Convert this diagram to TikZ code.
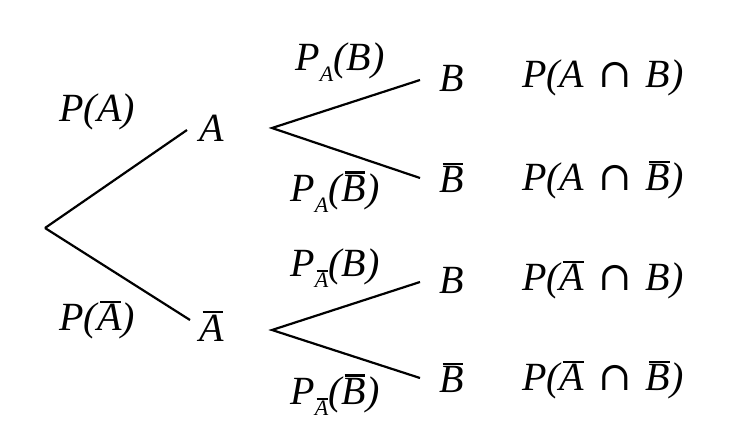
\documentclass[tikz,border=0pt]{standalone}
\usepackage{fontspec}
\setmainfont{Liberation Serif}
\newfontfamily\djf{DejaVu Serif}
\newcommand{\ob}[1]{\leavevmode\setbox0\hbox{#1}\rlap{\hskip0.12\wd0\raisebox{1.05\ht0}{\rule{0.85\wd0}{2.6pt}}}\box0}
\newcommand{\cp}{\hskip0.35em{\djf\fontsize{40}{40}\selectfont ∩}\hskip0.35em}
\newcommand{\sbx}[1]{\raisebox{-0.6ex}{\fontsize{22}{22}\selectfont #1}}
\begin{document}
\begin{tikzpicture}[x=1pt,y=-1pt,
  lbl/.style={font=\fontsize{40}{46}\selectfont\itshape, inner sep=0pt},
  ln/.style={line width=2.2pt}]
\useasboundingbox (0,0) rectangle (740,445);
\coordinate (r) at (45,228);
\node[lbl] (A) at (212,128) {A};
\node[lbl] (Ab) at (212,326) {\ob{A}};
\coordinate (Ar) at (272,128);
\coordinate (Abr) at (272,330);
\node[lbl] (B1) at (452,78) {B};
\node[lbl] (B2) at (452,178) {\ob{B}};
\node[lbl] (B3) at (452,280) {B};
\node[lbl] (B4) at (452,378) {\ob{B}};
\draw[ln] (r) -- (187,130);
\draw[ln] (r) -- (190,320);
\draw[ln] (420,80) -- (Ar) -- (420,178);
\draw[ln] (420,282) -- (Abr) -- (420,378);
\node[lbl] at (97,112) {P(A)};
\node[lbl] at (97,320) {P(\ob{A})};
\node[lbl] at (340,62) {P\sbx{A}(B)};
\node[lbl] at (335,192) {P\sbx{A}(\ob{B})};
\node[lbl] at (335,268) {P\sbx{\ob{A}}(B)};
\node[lbl] at (335,395) {P\sbx{\ob{A}}(\ob{B})};
\node[lbl,anchor=west] at (522,78) {P(A\cp B)};
\node[lbl,anchor=west] at (522,180) {P(A\cp\ob{B})};
\node[lbl,anchor=west] at (522,280) {P(\ob{A}\cp B)};
\node[lbl,anchor=west] at (522,380) {P(\ob{A}\cp\ob{B})};
\end{tikzpicture}
\end{document}
